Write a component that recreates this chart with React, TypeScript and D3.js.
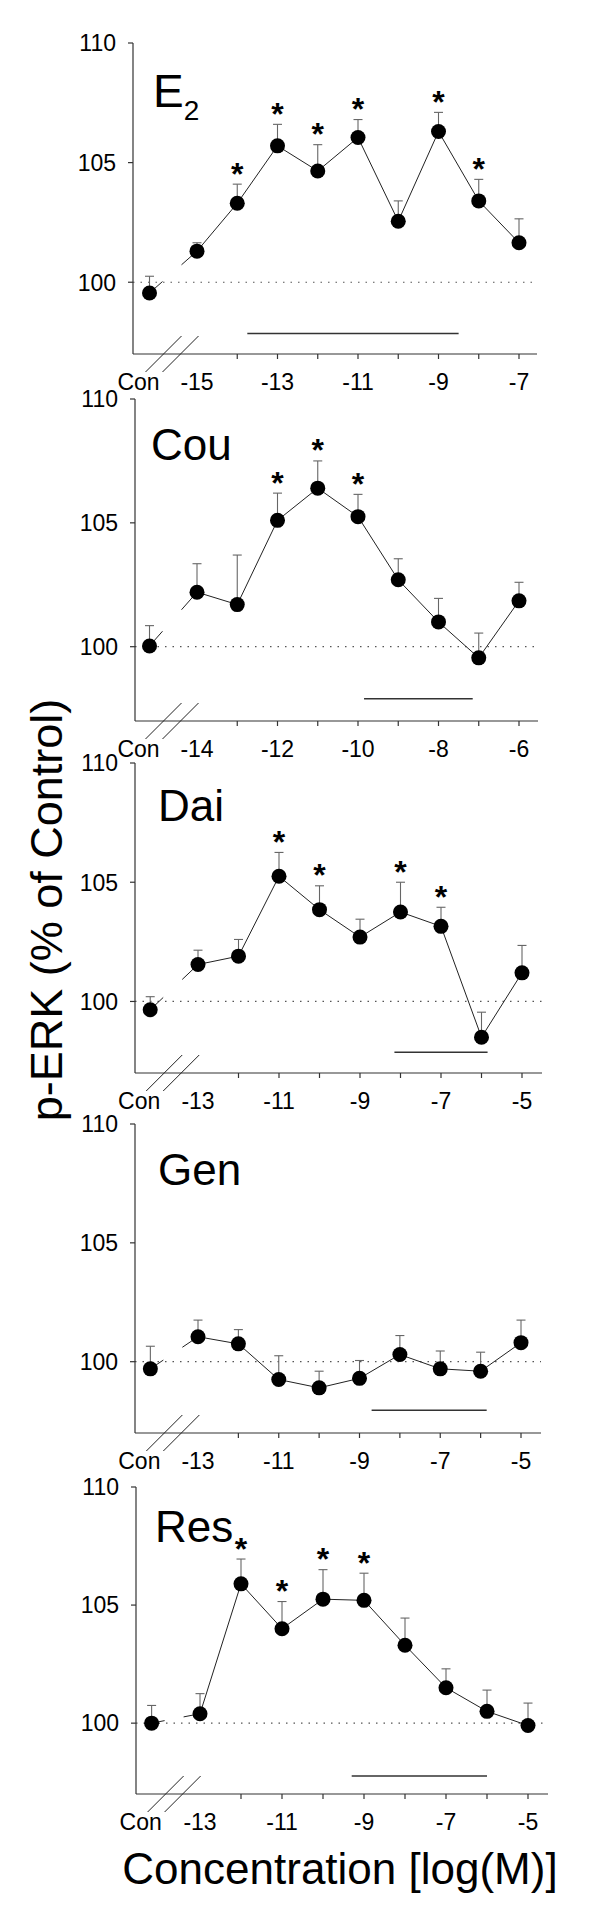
import React from "react";
import * as d3 from "d3";

// values: Con first, then increasing concentrations
const PANEL_NAMES = ["E", "Cou", "Dai", "Gen", "Res"];
const FIRST_CONC = [-15, -14, -13, -13, -13];

const E2_MEAN = [99.55, 101.3, 103.3, 105.7, 104.65, 106.05, 102.55, 106.3, 103.4, 101.65];
const E2_SEM = [0.7, 0.35, 0.8, 0.9, 1.1, 0.75, 0.85, 0.8, 0.9, 1.0];
const E2_SIG = [-14, -13, -12, -11, -9, -8];

const COU_MEAN = [100.03, 102.2, 101.7, 105.1, 106.4, 105.25, 102.7, 101.0, 99.55, 101.85];
const COU_SEM = [0.82, 1.15, 2.0, 1.1, 1.1, 0.9, 0.85, 0.95, 1.0, 0.75];
const COU_SIG = [-12, -11, -10];

const DAI_MEAN = [99.65, 101.55, 101.9, 105.25, 103.85, 102.7, 103.75, 103.15, 98.5, 101.2];
const DAI_SEM = [0.55, 0.6, 0.7, 1.0, 1.0, 0.75, 1.25, 0.8, 1.05, 1.15];
const DAI_SIG = [-11, -10, -8, -7];

const GEN_MEAN = [99.7, 101.05, 100.75, 99.25, 98.9, 99.3, 100.3, 99.7, 99.6, 100.8];
const GEN_SEM = [0.95, 0.7, 0.6, 1.0, 0.7, 0.75, 0.8, 0.75, 0.8, 0.95];
const GEN_SIG: number[] = [];

const RES_MEAN = [100.0, 100.4, 105.9, 104.0, 105.25, 105.2, 103.3, 101.5, 100.5, 99.9];
const RES_SEM = [0.75, 0.85, 1.05, 1.15, 1.25, 1.15, 1.15, 0.8, 0.9, 0.95];
const RES_SIG = [-12, -11, -10, -9];

// horizontal bar under each curve: [from, to] in log(M), and its level
const BAR_RANGE = [[-13.75, -8.5], [-9.85, -7.15], [-8.15, -5.85], [-8.7, -5.85], [-9.3, -6.0]];
const BAR_LEVEL = [97.86, 97.9, 97.87, 97.96, 97.76];

const Y_TICKS = [100, 105, 110];
const Y_DOMAIN = [97, 110];

const MEANS = [E2_MEAN, COU_MEAN, DAI_MEAN, GEN_MEAN, RES_MEAN];
const SEMS = [E2_SEM, COU_SEM, DAI_SEM, GEN_SEM, RES_SEM];
const SIGS = [E2_SIG, COU_SIG, DAI_SIG, GEN_SIG, RES_SIG];

// panel frames in px
const LAYOUT = [
  { top: 43, bottom: 354, left: 133, right: 537, firstPx: 197, lastPx: 519 },
  { top: 399, bottom: 721, left: 135, right: 538, firstPx: 197, lastPx: 519 },
  { top: 763, bottom: 1073, left: 135, right: 542, firstPx: 198, lastPx: 522 },
  { top: 1124, bottom: 1433, left: 135, right: 541, firstPx: 198, lastPx: 521 },
  { top: 1487, bottom: 1794, left: 136, right: 548, firstPx: 200, lastPx: 528 },
];

const FONT = "'Liberation Sans', Arial, Helvetica, sans-serif";
const CON_GAP = 1.18;

function Panel({ i }: { i: number }) {
  const lay = LAYOUT[i];
  const first = FIRST_CONC[i];
  const mean = MEANS[i];
  const sem = SEMS[i];
  const last = first + mean.length - 2;
  const x = d3.scaleLinear().domain([first, last]).range([lay.firstPx, lay.lastPx]);
  const y = d3.scaleLinear().domain(Y_DOMAIN).range([lay.bottom, lay.top]);
  const concs = mean.map((_, k) => (k === 0 ? first - CON_GAP : first + k - 1));
  const pts = mean.map((m, k) => [x(concs[k]), y(m)] as [number, number]);
  const line = d3.line();

  // broken segment between Con and the first dose
  const [c0, c1] = [pts[0], pts[1]];
  const at = (px: number): [number, number] => [px, c0[1] + ((px - c0[0]) / (c1[0] - c0[0])) * (c1[1] - c0[1])];
  const bA = c0[0] + 13;
  const bB = c0[0] + 32;

  const ticks = d3.range(first + 1, last + 1);
  const labels = d3.range(first, last + 1, 2);

  return (
    <g fontFamily={FONT}>
      {/* y=100 reference */}
      <line x1={lay.left} x2={lay.right} y1={y(100)} y2={y(100)} stroke="#555" strokeWidth={1.2} strokeDasharray="1.5,6" />
      {/* axes */}
      <line x1={lay.left} x2={lay.left} y1={lay.top} y2={lay.bottom} stroke="#333" strokeWidth={1.2} />
      <line x1={lay.left} x2={lay.right} y1={lay.bottom} y2={lay.bottom} stroke="#333" strokeWidth={1.2} />
      {Y_TICKS.map((t) => (
        <g key={t}>
          <line x1={lay.left - 5} x2={lay.left} y1={y(t)} y2={y(t)} stroke="#333" strokeWidth={1.2} />
          <text x={lay.left - 17} y={y(t)} dy="0.36em" textAnchor="end" fontSize={23}>{t}</text>
        </g>
      ))}
      {ticks.map((t) => (
        <line key={t} x1={x(t)} x2={x(t)} y1={lay.bottom} y2={lay.bottom + 5} stroke="#333" strokeWidth={1.2} />
      ))}
      {labels.map((t) => (
        <text key={t} x={x(t)} y={lay.bottom + 36} textAnchor="middle" fontSize={23}>{t}</text>
      ))}
      <text x={pts[0][0] - 11} y={lay.bottom + 36} textAnchor="middle" fontSize={23}>Con</text>
      {/* axis break */}
      {[c0[0] + 14, c0[0] + 31].map((bx, k) => (
        <line key={k} x1={bx - 18} y1={lay.bottom + 18} x2={bx + 18} y2={lay.bottom - 18} stroke="#222" strokeWidth={1} />
      ))}
      {/* bar */}
      <line x1={x(BAR_RANGE[i][0])} x2={x(BAR_RANGE[i][1])} y1={y(BAR_LEVEL[i])} y2={y(BAR_LEVEL[i])} stroke="#333" strokeWidth={1.6} />
      {/* error bars */}
      {pts.map((p, k) => {
        const top = y(mean[k] + sem[k]);
        return (
          <g key={k} stroke="#666" strokeWidth={1.1}>
            <line x1={p[0]} x2={p[0]} y1={p[1]} y2={top} />
            <line x1={p[0] - 4.5} x2={p[0] + 4.5} y1={top} y2={top} />
          </g>
        );
      })}
      {/* curve */}
      <path d={line([c0, at(bA)]) ?? ""} fill="none" stroke="#222" strokeWidth={1} />
      <path d={line([at(bB), ...pts.slice(1)]) ?? ""} fill="none" stroke="#222" strokeWidth={1} />
      {pts.map((p, k) => (
        <circle key={k} cx={p[0]} cy={p[1]} r={7.5} fill="#000" />
      ))}
      {/* significance */}
      {SIGS[i].map((c) => {
        const k = c - first + 1;
        const top = y(mean[k] + sem[k]);
        return (
          <text key={c} x={x(c)} y={top + 0.5} textAnchor="middle" fontSize={32} fontWeight="bold">*</text>
        );
      })}
      {/* panel label */}
      {i === 0 ? (
        <text x={153} y={lay.top + 64} fontSize={46}>
          E<tspan fontSize={28} dy={12.6}>2</tspan>
        </text>
      ) : (
        <text x={[0, 151, 158, 158, 155][i]} y={lay.top + [0, 61, 58, 61, 55][i]} fontSize={44}>{PANEL_NAMES[i]}</text>
      )}
    </g>
  );
}

export default function App() {
  return (
    <svg width={600} height={1924} style={{ position: "absolute", left: 0, top: 0, background: "#fff" }}>
      <rect width={600} height={1924} fill="#fff" />
      {PANEL_NAMES.map((_, i) => (
        <Panel key={i} i={i} />
      ))}
      <text transform="translate(62,910) rotate(-90)" textAnchor="middle" fontSize={45} fontFamily={FONT}>p-ERK (% of Control)</text>
      <text x={340} y={1884} textAnchor="middle" fontSize={44} fontFamily={FONT}>Concentration [log(M)]</text>
    </svg>
  );
}
